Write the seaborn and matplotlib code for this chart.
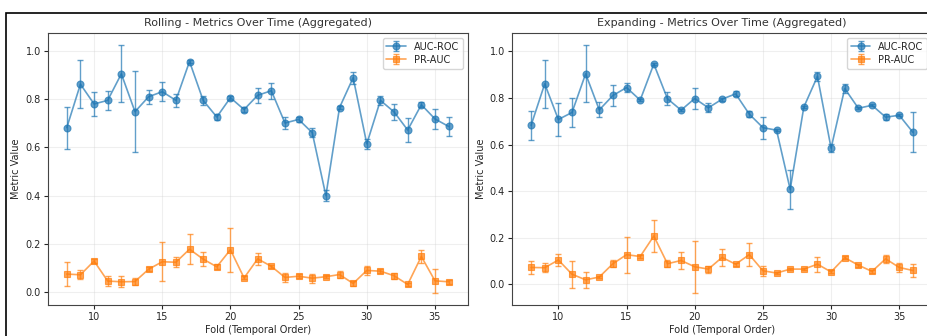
import numpy as np
import matplotlib.pyplot as plt
import pandas as pd
import seaborn as sns
from matplotlib.patches import Rectangle

folds = list(range(8, 37))

# Rolling window
roll_auc = [0.682, 0.862, 0.780, 0.795, 0.905, 0.748, 0.810, 0.831, 0.795, 0.956,
            0.795, 0.726, 0.806, 0.757, 0.816, 0.835, 0.701, 0.716, 0.661, 0.400,
            0.765, 0.889, 0.615, 0.795, 0.747, 0.672, 0.777, 0.718, 0.687]
roll_auc_std = [0.087, 0.100, 0.050, 0.040, 0.118, 0.168, 0.028, 0.039, 0.028, 0.005,
                0.018, 0.014, 0.008, 0.012, 0.032, 0.034, 0.025, 0.010, 0.018, 0.022,
                0.005, 0.025, 0.020, 0.018, 0.033, 0.049, 0.011, 0.041, 0.038]
roll_pr = [0.075, 0.072, 0.129, 0.046, 0.043, 0.044, 0.095, 0.126, 0.124, 0.178,
           0.137, 0.105, 0.176, 0.059, 0.138, 0.107, 0.061, 0.066, 0.058, 0.064,
           0.073, 0.036, 0.090, 0.087, 0.068, 0.032, 0.148, 0.047, 0.043]
roll_pr_std = [0.051, 0.019, 0.008, 0.019, 0.023, 0.014, 0.008, 0.081, 0.020, 0.062,
               0.029, 0.010, 0.091, 0.006, 0.026, 0.006, 0.020, 0.008, 0.019, 0.007,
               0.013, 0.012, 0.018, 0.008, 0.012, 0.006, 0.027, 0.049, 0.008]

# Expanding window
exp_auc = [0.683, 0.861, 0.708, 0.738, 0.904, 0.749, 0.811, 0.845, 0.791, 0.946,
           0.797, 0.748, 0.798, 0.758, 0.795, 0.818, 0.731, 0.673, 0.662, 0.408,
           0.761, 0.893, 0.585, 0.841, 0.756, 0.769, 0.718, 0.726, 0.653]
exp_auc_std = [0.063, 0.103, 0.070, 0.063, 0.122, 0.032, 0.046, 0.019, 0.005, 0.006,
               0.028, 0.005, 0.046, 0.020, 0.007, 0.011, 0.013, 0.047, 0.005, 0.084,
               0.005, 0.020, 0.016, 0.018, 0.005, 0.004, 0.012, 0.005, 0.086]
exp_pr = [0.073, 0.072, 0.105, 0.044, 0.020, 0.032, 0.089, 0.128, 0.120, 0.208,
          0.089, 0.103, 0.076, 0.066, 0.116, 0.087, 0.128, 0.059, 0.049, 0.066,
          0.066, 0.087, 0.054, 0.115, 0.083, 0.056, 0.110, 0.073, 0.060]
exp_pr_std = [0.026, 0.020, 0.025, 0.058, 0.033, 0.005, 0.016, 0.077, 0.006, 0.067,
              0.016, 0.037, 0.111, 0.015, 0.036, 0.007, 0.048, 0.022, 0.006, 0.006,
              0.006, 0.033, 0.006, 0.007, 0.006, 0.006, 0.018, 0.021, 0.028]

panels = [
    ("Rolling - Metrics Over Time (Aggregated)", roll_auc, roll_auc_std, roll_pr, roll_pr_std),
    ("Expanding - Metrics Over Time (Aggregated)", exp_auc, exp_auc_std, exp_pr, exp_pr_std),
]

sns.set_style("ticks")
plt.rcParams['font.family'] = ['DejaVu Sans']

fig = plt.figure(figsize=(9.28, 3.36), dpi=100)
W, H = 928, 336
lefts = [47.7, 512]
axes = [fig.add_axes([l / W, 31 / H, 420 / W, 272 / H]) for l in lefts]

blue = sns.color_palette("tab10")[0]
orange = sns.color_palette("tab10")[1]

for ax, (title, auc, auc_std, pr, pr_std) in zip(axes, panels):
    df = pd.DataFrame({"fold": folds, "auc": auc, "auc_std": auc_std,
                       "pr": pr, "pr_std": pr_std})
    handles = []
    for col, scol, mk, c, lab in [("auc", "auc_std", "o", blue, "AUC-ROC"),
                                  ("pr", "pr_std", "s", orange, "PR-AUC")]:
        sns.lineplot(data=df, x="fold", y=col, marker=mk, color=c, ax=ax,
                     markersize=5, markeredgecolor=c, markeredgewidth=0.8,
                     linewidth=1.2, alpha=0.7)
        line = ax.lines[-1]
        err = ax.errorbar(df["fold"], df[col], yerr=df[scol], fmt="none",
                          ecolor=c, elinewidth=1.0, capsize=2, alpha=0.7)
        handles.append(((line, err), lab))
    ax.set_title(title, fontsize=8, color="#333333", pad=5)
    ax.set_xlabel("Fold (Temporal Order)", fontsize=7, labelpad=2)
    ax.set_ylabel("Metric Value", fontsize=7, labelpad=3)
    ax.tick_params(labelsize=7, length=3, width=0.8, pad=2)
    ax.set_xticks([10, 15, 20, 25, 30, 35])
    ax.set_yticks([0.0, 0.2, 0.4, 0.6, 0.8, 1.0])
    ax.grid(True, alpha=0.3)
    for s in ax.spines.values():
        s.set_color("#444444")
        s.set_linewidth(0.8)
    ax.legend([h for h, _ in handles], [l for _, l in handles], loc="upper right",
              fontsize=7, frameon=True, framealpha=0.8, handlelength=2,
              borderpad=0.4, labelspacing=0.3)

fig.patches.append(Rectangle((6.5 / W, -0.1), 1.2, (H - 12.5) / H + 0.1,
                             transform=fig.transFigure, fill=False,
                             edgecolor="black", linewidth=1.2, figure=fig))

fig.savefig("out.png", dpi=100)
